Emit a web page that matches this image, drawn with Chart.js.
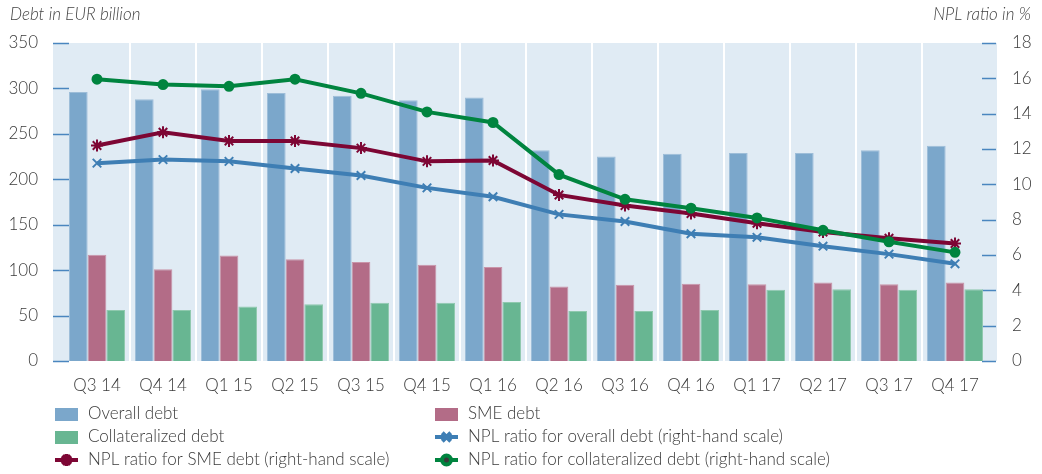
<!DOCTYPE html>
<html>
<head>
<meta charset="utf-8">
<script src="https://cdn.jsdelivr.net/npm/chart.js@4.4.0/dist/chart.umd.min.js"></script>
<style>
  html, body { margin: 0; padding: 0; background: #fff; }
  #chart { display: block; }
</style>
</head>
<body>
<canvas id="chart" width="1042" height="474"></canvas>
<script>
// quarters on the x axis
const quarters = ['Q3 14', 'Q4 14', 'Q1 15', 'Q2 15', 'Q3 15', 'Q4 15', 'Q1 16',
                  'Q2 16', 'Q3 16', 'Q4 16', 'Q1 17', 'Q2 17', 'Q3 17', 'Q4 17'];

// debt in EUR billion (left scale)
const overallDebt = [296, 288, 299, 295, 292, 287, 290, 232, 225, 228, 229, 229, 232, 237];
const smeDebt = [117, 101, 116, 112, 109, 106, 103.5, 82, 84, 85, 84.5, 86.5, 84.5, 86.5];
const collatDebt = [56, 56, 60, 62.5, 64, 64, 65, 55, 55, 56, 78.5, 79, 78.5, 79];

// NPL ratios in % (right scale)
const nplOverall = [11.2, 11.4, 11.3, 10.9, 10.5, 9.8, 9.3, 8.3, 7.9, 7.2, 7.0, 6.5, 6.05, 5.5];
const nplSme = [12.2, 12.95, 12.45, 12.45, 12.05, 11.3, 11.35, 9.4, 8.8, 8.35, 7.8, 7.3, 6.95, 6.65];
const nplCollat = [15.95, 15.65, 15.55, 15.95, 15.15, 14.1, 13.5, 10.55, 9.15, 8.65, 8.1, 7.4, 6.75, 6.15];

const leftTicks = [0, 50, 100, 150, 200, 250, 300, 350];
const rightTicks = [0, 2, 4, 6, 8, 10, 12, 14, 16, 18];

const FONT = 'Lato, "Open Sans", sans-serif';
const TEXT = '#3a3a3a';
const TICK_BLUE = '#4a86bf';

// background panel, white category separators and the little blue tick marks
const panelPlugin = {
    id: 'panel',
    beforeDatasetsDraw(chart) {
        const { ctx, chartArea, scales } = chart;
        const x = scales.x, yl = scales.y, yr = scales.y2;
        ctx.save();
        ctx.fillStyle = '#e0ebf4';
        ctx.fillRect(chartArea.left - 11, chartArea.top, chartArea.width + 20, chartArea.height);

        ctx.strokeStyle = '#ffffff';
        ctx.lineWidth = 2;
        for (let i = 1; i < quarters.length; i++) {
            const px = Math.round((x.getPixelForValue(i - 1) + x.getPixelForValue(i)) / 2);
            ctx.beginPath();
            ctx.moveTo(px, chartArea.top);
            ctx.lineTo(px, chartArea.bottom);
            ctx.stroke();
        }

        ctx.strokeStyle = TICK_BLUE;
        ctx.lineWidth = 1.5;
        leftTicks.forEach(v => {
            const py = Math.round(yl.getPixelForValue(v)) + 0.5;
            ctx.beginPath();
            ctx.moveTo(chartArea.left - 11, py);
            ctx.lineTo(chartArea.left + 5, py);
            ctx.stroke();
        });
        rightTicks.forEach(v => {
            const py = Math.round(yr.getPixelForValue(v)) + 0.5;
            ctx.beginPath();
            ctx.moveTo(chartArea.right - 6, py);
            ctx.lineTo(chartArea.right + 8, py);
            ctx.stroke();
        });
        ctx.restore();
    },
    afterDraw(chart) {
        const { ctx } = chart;
        ctx.save();
        ctx.fillStyle = '#444';
        ctx.font = 'italic 300 17px ' + FONT;
        ctx.textBaseline = 'middle';
        ctx.textAlign = 'left';
        ctx.fillText('Debt in EUR billion', 10, 15);
        ctx.textAlign = 'right';
        ctx.fillText('NPL ratio in %', 1031, 15);
        ctx.restore();
    }
};

// legend in two columns, three rows, like the original
const legendPlugin = {
    id: 'twoColLegend',
    afterDraw(chart) {
        const { ctx } = chart;
        const slots = [
            [0, 55, 414], [1, 435, 414],
            [2, 55, 437], [3, 435, 437],
            [4, 55, 460], [5, 435, 460]
        ];
        ctx.save();
        ctx.font = '300 17px ' + FONT;
        ctx.textBaseline = 'middle';
        ctx.textAlign = 'left';
        slots.forEach(([i, sx, sy]) => {
            const ds = chart.data.datasets[i];
            if (ds.type === 'bar') {
                ctx.fillStyle = ds.backgroundColor;
                ctx.fillRect(sx, sy - 6, 23, 13);
            } else {
                ctx.strokeStyle = ds.borderColor;
                ctx.lineWidth = 4;
                ctx.beginPath();
                ctx.moveTo(sx, sy);
                ctx.lineTo(sx + 23, sy);
                ctx.stroke();
                Chart.helpers.drawPoint(ctx, {
                    pointStyle: ds.pointStyle,
                    radius: ds.pointRadius,
                    borderWidth: 2
                }, sx + 11.5, sy);
            }
            ctx.fillStyle = TEXT;
            ctx.fillText(ds.label, sx + 33, sy);
        });
        ctx.restore();
    }
};

function lineSet(label, data, color, style, radius, order) {
    return {
        type: 'line',
        label: label,
        data: data,
        yAxisID: 'y2',
        borderColor: color,
        backgroundColor: color,
        borderWidth: 4,
        pointStyle: style,
        pointRadius: radius,
        pointBorderWidth: 2,
        pointBorderColor: color,
        pointBackgroundColor: color,
        tension: 0,
        order: order
    };
}

function barSet(label, data, color, edge) {
    return {
        type: 'bar',
        label: label,
        data: data,
        yAxisID: 'y',
        backgroundColor: color,
        borderColor: edge,
        borderWidth: 1,
        categoryPercentage: 0.85,
        barPercentage: 1.0,
        order: 5
    };
}

new Chart(document.getElementById('chart'), {
    data: {
        labels: quarters,
        datasets: [
            barSet('Overall debt', overallDebt, '#7ba7cb', '#9dbdd8'),
            barSet('SME debt', smeDebt, '#b36c87', '#c995a9'),
            barSet('Collateralized debt', collatDebt, '#68b692', '#8fc9ae'),
            lineSet('NPL ratio for overall debt (right-hand scale)', nplOverall, '#3e7eb4', 'crossRot', 6, 3),
            lineSet('NPL ratio for SME debt (right-hand scale)', nplSme, '#7d0634', 'star', 6, 2),
            lineSet('NPL ratio for collateralized debt (right-hand scale)', nplCollat, '#00843f', 'circle', 4.5, 1)
        ]
    },
    options: {
        responsive: false,
        animation: false,
        layout: { padding: { top: 43, left: 0, right: 0, bottom: 0 } },
        plugins: {
            legend: { display: false },
            tooltip: { enabled: false }
        },
        scales: {
            x: {
                type: 'category',
                offset: true,
                grid: { display: false, drawTicks: false },
                border: { display: false },
                ticks: { color: TEXT, font: { family: FONT, size: 17, weight: 300 }, padding: 14, maxRotation: 0 },
                afterFit(scale) { scale.height = 113; }
            },
            y: {
                position: 'left',
                min: 0, max: 350,
                grid: { display: false, drawTicks: false },
                border: { display: false },
                ticks: { stepSize: 50, color: TEXT, font: { family: FONT, size: 17, weight: 300 }, padding: 26 },
                afterFit(scale) { scale.width = 64; }
            },
            y2: {
                position: 'right',
                min: 0, max: 18,
                grid: { display: false, drawTicks: false },
                border: { display: false },
                ticks: { stepSize: 2, color: TEXT, font: { family: FONT, size: 17, weight: 300 }, padding: 24 },
                afterFit(scale) { scale.width = 54; }
            }
        }
    },
    plugins: [panelPlugin, legendPlugin]
});
</script>
</body>
</html>
